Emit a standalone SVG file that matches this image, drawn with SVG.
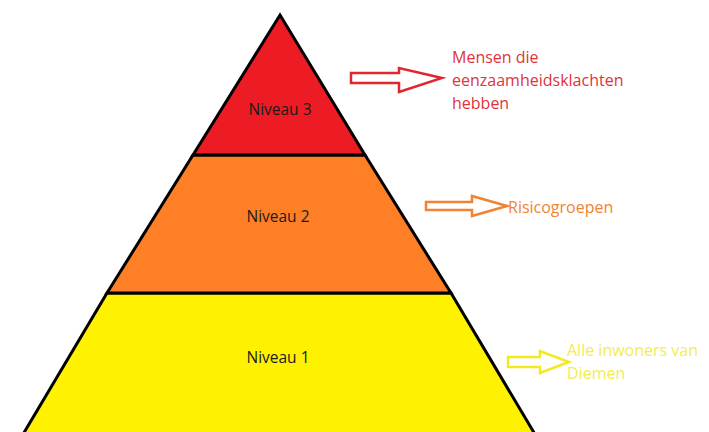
<svg xmlns="http://www.w3.org/2000/svg" width="709" height="432" viewBox="0 0 709 432">
<style>
.lvl{stroke:#000;stroke-width:3;stroke-linejoin:miter}
.ntxt{font-family:"Open Sans","Liberation Sans",sans-serif;font-size:15.5px;fill:#1a1a1a;text-anchor:middle}
.ltxt{font-family:"Open Sans","Liberation Sans",sans-serif;font-size:16px}
.arr{fill:#fff;stroke-width:2.5;stroke-linejoin:miter}
</style>
<rect width="709" height="432" fill="#fff"/>
<g id="level1">
<polygon class="lvl" points="107,293 451,293 536,436 22,436" fill="#FFF200"/>
<text class="ntxt" x="278" y="363">Niveau 1</text>
</g>
<g id="level2">
<polygon class="lvl" points="193,155 365,155 451,293 107,293" fill="#FF7F27"/>
<text class="ntxt" x="278" y="222">Niveau 2</text>
</g>
<g id="level3">
<polygon class="lvl" points="280,15 365,155 193,155" fill="#ED1C24"/>
<text class="ntxt" x="280" y="115">Niveau 3</text>
</g>
<g id="connectors">
<polygon class="arr" stroke="#E0262E" points="351,73 399,73 399,68 442,78 399,92 399,83 351,83"/>
<polygon class="arr" stroke="#F08434" points="426,202 472,202 472,196 507,206 472,216 472,210 426,210"/>
<polygon class="arr" stroke="#F2EA1C" points="508,357 540,357 540,351 569,362 540,373 540,367 508,367"/>
</g>
<g id="label3">
<text class="ltxt" fill="#E0333B" x="452" y="63">Mensen die</text>
<text class="ltxt" fill="#E0333B" x="452" y="86">eenzaamheidsklachten</text>
<text class="ltxt" fill="#E0333B" x="452" y="109">hebben</text>
</g>
<g id="label2">
<text class="ltxt" fill="#F08434" x="508" y="213">Risicogroepen</text>
</g>
<g id="label1">
<text class="ltxt" fill="#F3EC52" x="567" y="356">Alle inwoners van</text>
<text class="ltxt" fill="#F3EC52" x="567" y="379">Diemen</text>
</g>
</svg>
